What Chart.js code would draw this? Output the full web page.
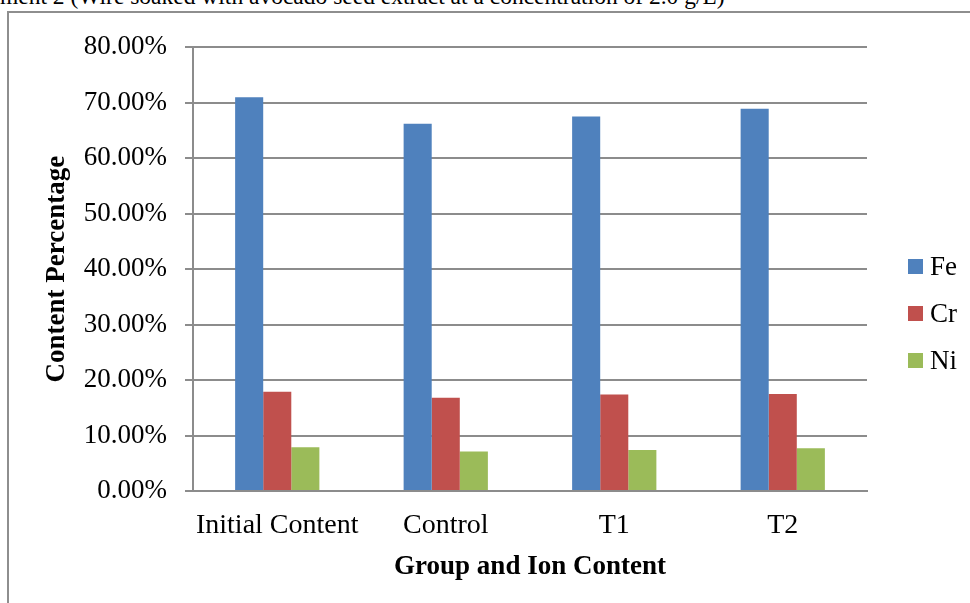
<!DOCTYPE html>
<html>
<head>
<meta charset="utf-8">
<script src="https://cdn.jsdelivr.net/npm/chart.js@4.4.1/dist/chart.umd.min.js"></script>
<style>
  html, body { margin: 0; padding: 0; width: 970px; height: 603px; overflow: hidden; background: #fff; }
  #caption { position: absolute; top: -15px; left: 0; font: 23.5px/1 "Liberation Serif", serif; color: #000; white-space: nowrap; }
  #frame { position: absolute; left: 7px; top: 11px; width: 1000px; height: 700px; border: 2px solid #8e8e8e; box-sizing: border-box; }
  #wrap { position: absolute; left: 9px; top: 13px; width: 961px; height: 590px; }
  #legend { position: absolute; left: 908px; top: 258px; font: 27px/1 "Liberation Serif", serif; color: #000; }
  .item { display: flex; align-items: center; height: 16px; margin-bottom: 31px; }
  .swatch { width: 15px; height: 15px; margin-right: 7px; }
</style>
</head>
<body>
<div id="caption"></div>
<div id="frame"></div>
<div id="wrap"><canvas id="chart"></canvas></div>
<div id="legend"></div>
<script>
// Groups along the x axis
const categories = ['Initial Content', 'Control', 'T1', 'T2'];
// Ion content per group, in percent
const fe = [71.0, 66.2, 67.5, 68.9];
const cr = [17.9, 16.8, 17.4, 17.5];
const ni = [7.9, 7.1, 7.4, 7.7];
const seriesNames = ['Fe', 'Cr', 'Ni'];
const seriesColors = ['#4f81bd', '#c0504d', '#9bbb59'];
const yTicks = [0, 10, 20, 30, 40, 50, 60, 70, 80];

// Caption line above the chart box (its start runs off the left edge)
const captionText = 'Treatment 2 (Wire soaked with avocado seed extract at a concentration of 2.0 g/L)';
const cap = document.getElementById('caption');
cap.textContent = captionText;
const mctx = document.createElement('canvas').getContext('2d');
mctx.font = '23.5px "Liberation Serif"';
cap.style.left = (-mctx.measureText('Treat').width) + 'px';

const serif = '"Liberation Serif", serif';
const gridGrey = '#8c8c8c';

const chart = new Chart(document.getElementById('chart'), {
  type: 'bar',
  data: {
    labels: categories,
    datasets: [fe, cr, ni].map((values, i) => ({
      label: seriesNames[i],
      data: values,
      backgroundColor: seriesColors[i],
      borderWidth: 0,
      categoryPercentage: 0.5,
      barPercentage: 1.0
    }))
  },
  options: {
    responsive: true,
    maintainAspectRatio: false,
    animation: false,
    devicePixelRatio: 1,
    layout: { padding: { top: 29, right: 103, bottom: 0, left: 0 } },
    plugins: {
      legend: { display: false },
      tooltip: { enabled: false }
    },
    scales: {
      x: {
        grid: { display: false, drawTicks: false },
        border: { display: true, color: gridGrey, width: 2 },
        ticks: { color: '#000', font: { family: serif, size: 28 }, padding: 18, maxRotation: 0 },
        title: {
          display: true,
          text: 'Group and Ion Content',
          color: '#000',
          font: { family: serif, size: 27, weight: 'bold' },
          padding: { top: 0, bottom: 20 }
        },
        afterFit: (s) => { s.height = 112; }
      },
      y: {
        min: 0,
        max: 80,
        afterBuildTicks: (s) => { s.ticks = yTicks.map(v => ({ value: v })); },
        grid: { color: gridGrey, lineWidth: 2, tickLength: 8, drawTicks: true },
        border: { display: true, color: gridGrey, width: 2 },
        ticks: {
          color: '#000',
          font: { family: serif, size: 27 },
          padding: 18,
          callback: (v) => Number(v).toFixed(2) + '%'
        },
        title: {
          display: true,
          text: 'Content Percentage',
          color: '#000',
          font: { family: serif, size: 27, weight: 'bold' },
          padding: { top: 32, bottom: 0 }
        },
        afterFit: (s) => { s.width = 184; }
      }
    }
  }
});

// Legend entries taken from the chart's own legend labels
const legendEl = document.getElementById('legend');
chart.options.plugins.legend.labels.generateLabels(chart).forEach((it) => {
  const row = document.createElement('div');
  row.className = 'item';
  const sw = document.createElement('span');
  sw.className = 'swatch';
  sw.style.background = it.fillStyle;
  const tx = document.createElement('span');
  tx.textContent = it.text;
  row.appendChild(sw);
  row.appendChild(tx);
  legendEl.appendChild(row);
});
</script>
</body>
</html>
